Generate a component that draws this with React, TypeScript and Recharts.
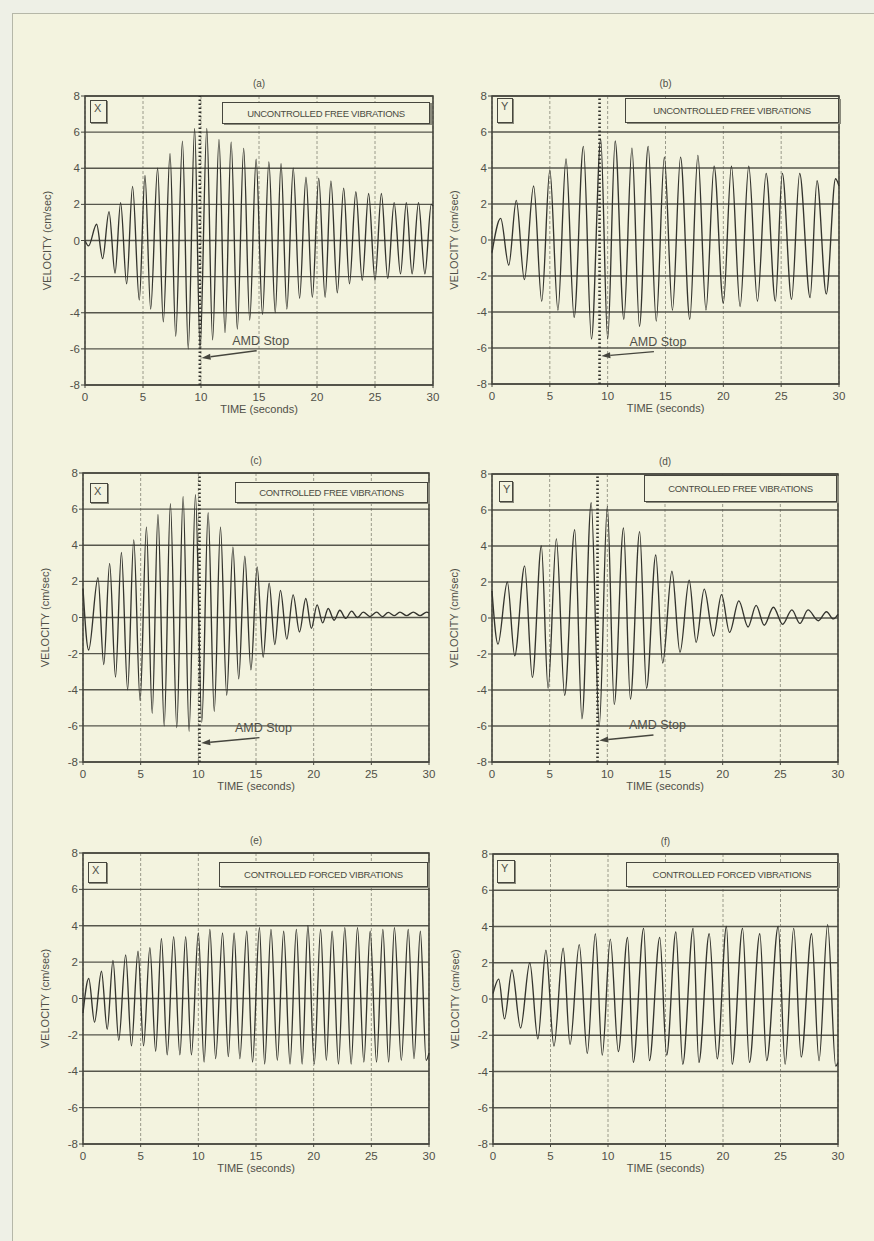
import React from 'react'
import {
  LineChart,
  Line,
  XAxis,
  YAxis,
  CartesianGrid,
  ReferenceLine,
  ReferenceArea,
  Label
} from 'recharts'

// axis ticks
const timeTicks = [0, 5, 10, 15, 20, 25, 30]
const velocityTicks = [-8, -6, -4, -2, 0, 2, 4, 6, 8]

// (a) X direction, uncontrolled free vibrations (peaks / troughs)
const aTime = [0, 0.3, 1.0, 1.52, 2.07, 2.59, 3.07, 3.59, 4.1, 4.68, 5.17, 5.66, 6.26, 6.75, 7.33, 7.82, 8.4, 8.9, 9.45, 9.92, 10.5, 11.0, 11.55, 12.07, 12.6, 13.13, 13.68, 14.2, 14.75, 15.3, 15.85, 16.4, 16.9, 17.4, 17.95, 18.5, 19.05, 19.6, 20.15, 20.7, 21.2, 21.75, 22.3, 22.8, 23.35, 23.9, 24.45, 25.0, 25.55, 26.1, 26.65, 27.2, 27.7, 28.2, 28.75, 29.3, 29.85, 30]
const aVelocity = [0, -0.3, 0.9, -1.0, 1.6, -1.8, 2.1, -2.4, 3.0, -3.3, 3.6, -3.8, 4.0, -4.5, 4.8, -5.3, 5.5, -6.0, 6.2, -6.0, 6.2, -5.5, 5.6, -5.1, 5.45, -4.9, 5.1, -4.4, 4.5, -4.1, 4.35, -4.0, 4.25, -3.8, 4.0, -3.2, 3.5, -3.15, 3.45, -3.15, 3.3, -2.9, 2.9, -2.4, 2.7, -2.2, 2.6, -2.2, 2.6, -2.1, 2.1, -1.85, 2.1, -1.85, 2.1, -1.85, 2.0, 1.9]

// (b) Y direction, uncontrolled free vibrations
const bTime = [0, 0.75, 1.45, 2.1, 2.8, 3.6, 4.3, 5.0, 5.7, 6.4, 7.1, 7.9, 8.6, 9.4, 10.0, 10.65, 11.4, 12.1, 12.75, 13.5, 14.2, 14.9, 15.6, 16.3, 17.1, 17.8, 18.5, 19.2, 20.0, 20.7, 21.45, 22.2, 22.95, 23.7, 24.5, 25.1, 25.9, 26.6, 27.5, 28.1, 28.9, 29.7, 30]
const bVelocity = [-0.7, 1.2, -1.4, 2.2, -2.2, 3.0, -3.4, 3.9, -3.9, 4.5, -4.3, 5.2, -5.5, 5.6, -5.5, 5.5, -4.4, 5.1, -4.8, 5.2, -4.5, 4.6, -3.9, 4.6, -4.4, 4.7, -3.9, 4.1, -3.5, 4.1, -3.7, 4.1, -3.4, 3.7, -3.4, 3.7, -3.3, 3.7, -3.2, 3.3, -3.0, 3.4, 3.0]

// (c) X direction, controlled free vibrations
const cTime = [0, 0.49, 1.3, 1.8, 2.31, 2.82, 3.33, 3.87, 4.4, 4.95, 5.5, 6.0, 6.5, 7.04, 7.58, 8.13, 8.68, 9.2, 9.75, 10.3, 10.85, 11.38, 11.92, 12.46, 13.0, 13.5, 14.03, 14.56, 15.1, 15.62, 16.14, 16.63, 17.12, 17.67, 18.22, 18.77, 19.32, 19.8, 20.3, 20.78, 21.26, 21.77, 22.27, 22.78, 23.29, 23.8, 24.3, 24.88, 25.46, 25.96, 26.47, 26.97, 27.48, 28.06, 28.64, 29.22, 29.8, 30]
const cVelocity = [1.6, -1.8, 2.2, -2.6, 3.0, -3.3, 3.6, -4.0, 4.3, -4.6, 5.0, -5.3, 5.7, -6.0, 6.3, -6.1, 6.7, -6.3, 6.8, -5.8, 5.8, -5.2, 5.0, -4.3, 3.9, -3.4, 3.4, -2.9, 2.8, -2.2, 1.9, -1.5, 1.5, -1.2, 1.25, -0.8, 1.05, -0.6, 0.7, -0.3, 0.5, -0.15, 0.4, -0.05, 0.35, 0.0, 0.3, 0.05, 0.3, 0.05, 0.28, 0.1, 0.3, 0.1, 0.3, 0.1, 0.3, 0.25]

// (d) Y direction, controlled free vibrations
const dTime = [0, 0.52, 1.33, 1.97, 2.83, 3.5, 4.28, 4.86, 5.58, 6.3, 7.17, 7.8, 8.6, 9.3, 10.0, 10.6, 11.4, 12.0, 12.8, 13.4, 14.2, 14.8, 15.6, 16.3, 17.1, 17.7, 18.4, 19.2, 19.9, 20.6, 21.4, 22.2, 22.9, 23.6, 24.4, 25.2, 26.0, 26.7, 27.4, 28.3, 29.0, 29.6, 30]
const dVelocity = [1.5, -1.45, 2.0, -2.1, 2.9, -3.3, 4.0, -3.9, 4.4, -4.3, 4.9, -5.6, 6.4, -6.0, 6.2, -4.8, 5.0, -4.5, 4.8, -3.9, 3.5, -2.5, 2.6, -1.9, 2.1, -1.35, 1.6, -1.0, 1.3, -0.8, 0.95, -0.5, 0.7, -0.4, 0.6, -0.35, 0.45, -0.3, 0.45, -0.15, 0.35, -0.05, 0.2]

// (e) X direction, controlled forced vibrations
const eTime = [0, 0.5, 1.0, 1.6, 2.1, 2.6, 3.1, 3.7, 4.2, 4.77, 5.25, 5.8, 6.3, 6.8, 7.3, 7.86, 8.4, 8.9, 9.4, 10.0, 10.5, 11.0, 11.5, 12.1, 12.6, 13.1, 13.6, 14.2, 14.7, 15.3, 15.75, 16.3, 16.85, 17.4, 17.95, 18.5, 19.0, 19.5, 20.05, 20.6, 21.1, 21.6, 22.15, 22.7, 23.25, 23.8, 24.35, 24.9, 25.45, 26.0, 26.5, 27.0, 27.6, 28.2, 28.7, 29.25, 29.75, 30]
const eVelocity = [-0.8, 1.1, -1.3, 1.5, -1.7, 2.1, -2.3, 2.4, -2.6, 2.6, -2.6, 2.8, -2.9, 3.3, -3.1, 3.4, -3.1, 3.4, -3.1, 3.6, -3.5, 3.8, -3.3, 3.6, -3.2, 3.6, -3.3, 3.7, -3.5, 3.9, -3.6, 3.8, -3.4, 3.7, -3.6, 3.8, -3.6, 4.0, -3.6, 3.8, -3.4, 3.7, -3.6, 3.9, -3.6, 3.9, -3.5, 3.7, -3.5, 3.8, -3.5, 3.9, -3.4, 3.8, -3.3, 3.7, -3.4, -3.0]

// (f) Y direction, controlled forced vibrations
const fTime = [0, 0.5, 1.0, 1.65, 2.4, 3.2, 3.9, 4.6, 5.3, 6.1, 6.7, 7.5, 8.2, 8.9, 9.5, 10.2, 10.9, 11.7, 12.2, 13.1, 13.6, 14.5, 15.1, 15.9, 16.5, 17.4, 17.9, 18.8, 19.5, 20.3, 20.8, 21.7, 22.3, 23.2, 23.8, 24.8, 25.4, 26.15, 26.8, 27.7, 28.35, 29.1, 29.8, 30]
const fVelocity = [0.3, 1.1, -1.1, 1.6, -1.6, 2.0, -2.2, 2.7, -2.6, 2.8, -2.5, 3.0, -3.0, 3.6, -3.1, 3.3, -2.9, 3.4, -3.5, 3.9, -3.4, 3.4, -3.1, 3.7, -3.6, 3.9, -3.5, 3.6, -3.3, 4.0, -3.6, 3.9, -3.5, 3.6, -3.4, 4.0, -3.6, 3.9, -3.2, 3.6, -3.4, 4.1, -3.7, -3.5]

const ink = '#46463e'
const paper = '#f3f3df'
const textInk = '#505048'
const font = '"Liberation Sans", Arial, sans-serif'

// chart margins around the plot box
const ML = 60
const MR = 8
const MT = 8
const MB = 45

const panels = [
  {
    letter: '(a)', axis: 'X', title: 'UNCONTROLLED FREE VIBRATIONS', time: aTime, velocity: aVelocity,
    plot: { x: 85, y: 96, w: 348, h: 289 },
    tag: { dx: 5, dy: 4, w: 17, h: 23 }, titleBox: { dx: 137, dy: 6, h: 22, right: 3 },
    stop: 9.9, arrowTail: { x: 14.8, y: -6.1 }, arrowHead: { x: 10.05, y: -6.5 }
  },
  {
    letter: '(b)', axis: 'Y', title: 'UNCONTROLLED FREE VIBRATIONS', time: bTime, velocity: bVelocity,
    plot: { x: 492, y: 96, w: 347, h: 288 },
    tag: { dx: 5, dy: 2, w: 16, h: 25 }, titleBox: { dx: 133, dy: 2, h: 25, right: 0 },
    stop: 9.3, arrowTail: { x: 14.0, y: -6.2 }, arrowHead: { x: 9.45, y: -6.45 }
  },
  {
    letter: '(c)', axis: 'X', title: 'CONTROLLED FREE VIBRATIONS', time: cTime, velocity: cVelocity,
    plot: { x: 83, y: 473, w: 346, h: 289 },
    tag: { dx: 7, dy: 10, w: 18, h: 20 }, titleBox: { dx: 152, dy: 9, h: 21, right: 1 },
    stop: 10.1, arrowTail: { x: 15.3, y: -6.65 }, arrowHead: { x: 10.25, y: -6.95 }
  },
  {
    letter: '(d)', axis: 'Y', title: 'CONTROLLED FREE VIBRATIONS', time: dTime, velocity: dVelocity,
    plot: { x: 492, y: 474, w: 346, h: 288 },
    tag: { dx: 7, dy: 7, w: 14, h: 21 }, titleBox: { dx: 152, dy: 1, h: 27, right: 1 },
    stop: 9.15, arrowTail: { x: 14.0, y: -6.5 }, arrowHead: { x: 9.3, y: -6.8 }
  },
  {
    letter: '(e)', axis: 'X', title: 'CONTROLLED FORCED VIBRATIONS', time: eTime, velocity: eVelocity,
    plot: { x: 83, y: 853, w: 346, h: 291 },
    tag: { dx: 5, dy: 9, w: 19, h: 21 }, titleBox: { dx: 136, dy: 9, h: 25, right: 1 }
  },
  {
    letter: '(f)', axis: 'Y', title: 'CONTROLLED FORCED VIBRATIONS', time: fTime, velocity: fVelocity,
    plot: { x: 493, y: 854, w: 345, h: 290 },
    tag: { dx: 4, dy: 6, w: 18, h: 23 }, titleBox: { dx: 133, dy: 8, h: 25, right: 0 }
  }
]

// arrow from the "AMD Stop" text to the dotted stop line
const StopArrow = (props: any) => {
  const { x1, y1, x2, y2 } = props
  const ang = Math.atan2(y2 - y1, x2 - x1)
  const len = 9
  const half = 3
  const bx = x2 - len * Math.cos(ang)
  const by = y2 - len * Math.sin(ang)
  const pts = `${x2},${y2} ${bx - half * Math.sin(ang)},${by + half * Math.cos(ang)} ${bx + half * Math.sin(ang)},${by - half * Math.cos(ang)}`
  return (
    <g>
      <line x1={x1} y1={y1} x2={bx} y2={by} stroke={ink} strokeWidth={1.4} />
      <polygon points={pts} fill={ink} />
      <text x={x1 + 4} y={y1 - 6} textAnchor="middle" fontSize={12.5} fill={textInk} fontFamily={font}>
        AMD Stop
      </text>
    </g>
  )
}

function VelocityPanel({ panel }: { panel: any }) {
  const { plot, tag, titleBox } = panel
  const data = panel.time.map((t: number, i: number) => ({ time: t, velocity: panel.velocity[i] }))

  return (
    <>
      <div style={{ position: 'absolute', left: plot.x - ML, top: plot.y - MT }}>
        <LineChart
          width={plot.w + ML + MR}
          height={plot.h + MT + MB}
          data={data}
          margin={{ top: MT, right: MR, left: 0, bottom: 0 }}
        >
          <CartesianGrid horizontal={false} stroke="#9a9a8a" strokeDasharray="3 2" />
          <CartesianGrid vertical={false} stroke="#56564c" strokeWidth={1.3} />
          <XAxis
            dataKey="time"
            type="number"
            domain={[0, 30]}
            ticks={timeTicks}
            interval={0}
            height={MB}
            axisLine={false}
            tickSize={3}
            tickMargin={5}
            tickLine={{ stroke: ink }}
            tick={{ fill: textInk, fontSize: 11.5, fontFamily: font }}
          >
            <Label
              value="TIME (seconds)"
              position="insideTop"
              offset={20}
              style={{ fill: textInk, fontSize: 11, fontFamily: font }}
            />
          </XAxis>
          <YAxis
            type="number"
            domain={[-8, 8]}
            ticks={velocityTicks}
            interval={0}
            width={ML}
            axisLine={false}
            tickSize={4}
            tickMargin={1}
            tickLine={{ stroke: ink }}
            tick={{ fill: textInk, fontSize: 11.5, fontFamily: font }}
          >
            <Label
              value="VELOCITY (cm/sec)"
              angle={-90}
              position="insideLeft"
              offset={22}
              style={{ textAnchor: 'middle', fill: textInk, fontSize: 11, fontFamily: font }}
            />
          </YAxis>
          <ReferenceArea x1={0} x2={30} y1={-8} y2={8} fill="none" stroke={ink} strokeWidth={1.6} fillOpacity={0} />
          <Line
            type="monotone"
            dataKey="velocity"
            stroke="#34342e"
            strokeWidth={1.35}
            dot={false}
            isAnimationActive={false}
          />
          {panel.stop !== undefined && (
            <ReferenceLine x={panel.stop} stroke="#2f2f2a" strokeWidth={2.6} strokeDasharray="1.6 2.4" />
          )}
          {panel.arrowTail && (
            <ReferenceLine
              segment={[panel.arrowTail, panel.arrowHead]}
              shape={StopArrow}
            />
          )}
        </LineChart>
      </div>
      {/* panel letter */}
      <div
        style={{
          position: 'absolute',
          left: plot.x,
          width: plot.w,
          top: plot.y - 18,
          textAlign: 'center',
          fontSize: 10,
          fontFamily: font,
          color: textInk
        }}
      >
        {panel.letter}
      </div>
      {/* X / Y tag */}
      <div
        style={{
          position: 'absolute',
          left: plot.x + tag.dx,
          top: plot.y + tag.dy,
          width: tag.w,
          height: tag.h,
          boxSizing: 'border-box',
          border: `1px solid ${ink}`,
          boxShadow: '1px 1px 0 #8a8a7c',
          background: paper,
          fontSize: 11,
          fontFamily: font,
          color: textInk,
          paddingLeft: 3,
          lineHeight: '14px'
        }}
      >
        {panel.axis}
      </div>
      {/* title box */}
      <div
        style={{
          position: 'absolute',
          left: plot.x + titleBox.dx,
          top: plot.y + titleBox.dy,
          width: plot.w - titleBox.dx - titleBox.right,
          height: titleBox.h,
          boxSizing: 'border-box',
          border: `1px solid ${ink}`,
          boxShadow: '2px 1px 0 #8a8a7c',
          background: paper,
          display: 'flex',
          alignItems: 'center',
          justifyContent: 'center',
          fontSize: 9.5,
          letterSpacing: -0.3,
          fontFamily: font,
          color: '#4a4a42',
          whiteSpace: 'nowrap'
        }}
      >
        {panel.title}
      </div>
    </>
  )
}

export default function App() {
  return (
    <div
      style={{
        position: 'absolute',
        left: 0,
        top: 0,
        width: 874,
        height: 1241,
        background: '#eef0e6',
        overflow: 'hidden'
      }}
    >
      <div
        style={{
          position: 'absolute',
          left: 12,
          top: 13,
          right: 0,
          bottom: 0,
          background: paper,
          borderLeft: '1.5px solid #b5b7a8',
          borderTop: '1.5px solid #b5b7a8'
        }}
      />
      {panels.map((p) => (
        <VelocityPanel key={p.letter} panel={p} />
      ))}
    </div>
  )
}
